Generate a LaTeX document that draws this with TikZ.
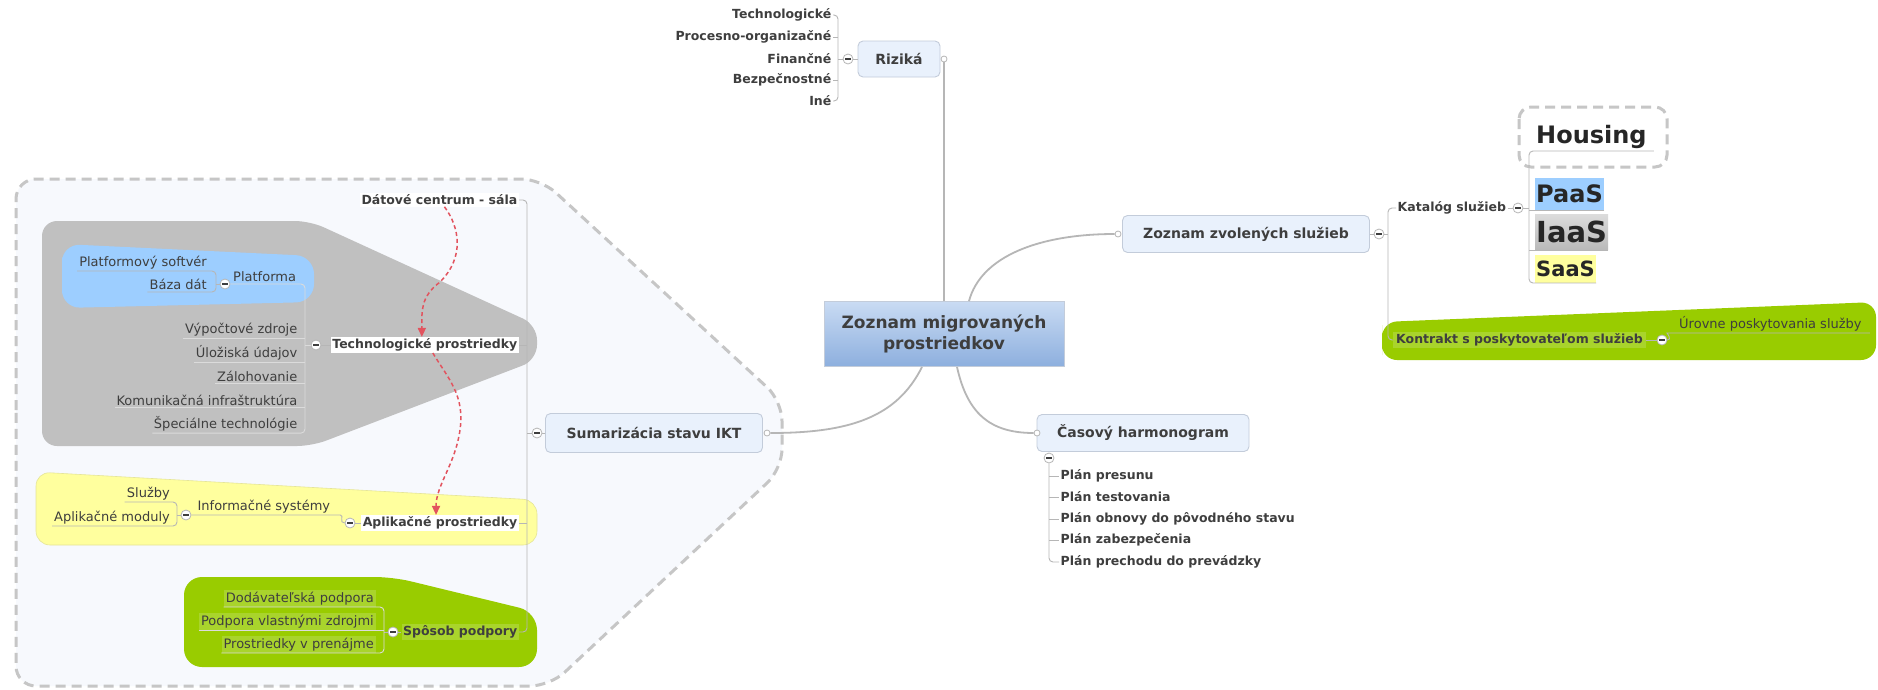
\documentclass[tikz,border=0pt]{standalone}
\usepackage{fontspec}
\setmainfont{DejaVu Sans}
\usetikzlibrary{arrows.meta,calc}
\definecolor{txt}{HTML}{3E3E3E}
\definecolor{lin}{HTML}{B6B6B6}
\definecolor{topicfill}{HTML}{E9F1FC}
\definecolor{topicdraw}{HTML}{C3CCDA}
\definecolor{regfill}{HTML}{F7F9FD}
\definecolor{regdraw}{HTML}{C6C6C6}
\definecolor{grayshape}{HTML}{C0C0C0}
\definecolor{blueshape}{HTML}{9DCEFF}
\definecolor{yelshape}{HTML}{FFFF9E}
\definecolor{grnshape}{HTML}{99CC00}
\definecolor{grnlight}{HTML}{A9D42C}
\definecolor{redarr}{HTML}{E2535E}
\definecolor{cenTop}{HTML}{C9DBF3}
\definecolor{cenBot}{HTML}{8DAFDE}
\newcommand\mmfs[1]{\fontsize{#1}{#1}\selectfont}
\tikzset{
  lbl/.style={inner sep=1.5pt, text=txt, font=\bfseries\mmfs{12.5}},
  reg/.style={inner sep=1.5pt, text=txt, font=\mmfs{13}},
  topic/.style={draw=topicdraw, fill=topicfill, rounded corners=5pt, text=txt, font=\bfseries\mmfs{14}, line width=0.9pt},
  coll/.style={circle, draw=lin, fill=white, minimum size=10pt, inner sep=0pt, line width=0.8pt,
    path picture={\draw[line width=1.4pt, txt] ([xshift=-2.6pt]path picture bounding box.center) -- ([xshift=2.6pt]path picture bounding box.center);}},
  hub/.style={circle, draw=lin, fill=white, minimum size=6pt, inner sep=0pt, line width=0.8pt},
  mainline/.style={draw=lin, line width=1.8pt},
  br/.style={draw=lin, line width=0.9pt, rounded corners=4pt},
  brlight/.style={draw=gray!28, line width=0.9pt, rounded corners=4pt},
  region/.style={fill=regfill, draw=regdraw, line width=3pt, dash pattern=on 10pt off 6pt},
  redline/.style={draw=redarr, line width=1.5pt, dash pattern=on 4pt off 3pt, -{Triangle[length=9pt,width=8pt]}},
  big/.style={text=black!85, inner ysep=1pt, inner xsep=1pt, anchor=south west}
}
\begin{document}
\begin{tikzpicture}[x=1pt,y=-1pt]
\useasboundingbox (0,0) rectangle (1878,689);
\fill[white] (0,0) rectangle (1878,689);

% ---------- background shapes ----------
\path[region, rounded corners=20] (16,430) -- (16,179) -- (541,179) -- (782,401) -- (782,469) -- (550,686) -- (16,686) -- cycle;
\fill[grayshape, rounded corners=15] (42,330) -- (42,221) -- (310,221) -- (537,325) -- (537,360) -- (312,446) -- (42,446) -- cycle;
\fill[blueshape, rounded corners=18] (62,275) -- (62,244) -- (314,256) -- (314,302) -- (62,308) -- cycle;
\path[fill=yelshape, draw=yelshape!80!gray, line width=0.6pt, rounded corners=14] (36,510) -- (36,472) -- (537,500) -- (537,545) -- (36,545) -- cycle;
\fill[grnshape, rounded corners=18] (184,620) -- (184,577) -- (393,577) -- (537,612) -- (537,667) -- (184,667) -- cycle;
\fill[grnshape, rounded corners=15] (1382,340) -- (1382,322) -- (1876,302) -- (1876,360) -- (1382,360) -- cycle;
\path[fill=white, draw=regdraw, line width=3pt, dash pattern=on 10pt off 6pt, rounded corners=12] (1519,107) rectangle (1667,167);

% ---------- central topic ----------
\node[draw=topicdraw, line width=0.9pt, top color=cenTop, bottom color=cenBot, minimum width=240pt, minimum height=65pt,
      align=center, font=\bfseries\fontsize{17}{21}\selectfont, text=txt] (cen) at (944,334) {Zoznam migrovaných\\prostriedkov};

% ---------- Rizika ----------
\node[topic, minimum width=82pt, minimum height=36pt] (riz) at (899,59) {Riziká};
\node[hub] (hR) at (944,59) {};
\node[coll] (cR) at (848,59) {};
\coordinate (rv) at (838,59);
\node[lbl, anchor=east] (r1) at (833,15) {Technologické};
\node[lbl, anchor=east] (r2) at (833,37) {Procesno-organizačné};
\node[lbl, anchor=east] (r3) at (833,59) {Finančné};
\node[lbl, anchor=east] (r4) at (833,80) {Bezpečnostné};
\node[lbl, anchor=east] (r5) at (833,101) {Iné};
\draw[br] (r1.east) -| (rv) |- (r5.east);
\draw[br] (r2.east) -- (rv |- r2.east);
\draw[br] (r4.east) -- (rv |- r4.east);
\draw[br] (cR.west) -- (rv);
\draw[br] (cR.east) -- (riz.west);

% ---------- Zoznam zvolenych sluzieb ----------
\node[topic, minimum width=247pt, minimum height=37pt] (zvo) at (1246,234) {Zoznam zvolených služieb};
\node[hub] (hZ) at (1118,234) {};
\node[coll] (cZ) at (1379,234) {};
\coordinate (zv) at (1388,234);
\node[lbl, anchor=west] (kat) at (1396,208) {Katalóg služieb};
\node[coll] (cK) at (1518,208) {};
\coordinate (kv) at (1529,208);
\node[big, font=\bfseries\mmfs{24}, inner xsep=7pt, inner ysep=2pt] (hou) at (1529,151) {Housing};
\node[big, fill=blueshape, minimum height=32pt, font=\bfseries\mmfs{24}] (paa) at (1535,210) {PaaS};
\node[big, top color=gray!28, bottom color=gray!55, minimum height=35pt, font=\bfseries\mmfs{29}] (iaa) at (1535,250) {IaaS};
\node[big, fill=yelshape, minimum height=28pt, font=\bfseries\mmfs{21}] (saa) at (1535,283) {SaaS};
\node[lbl, fill=grnlight, anchor=west, inner xsep=3pt, inner ysep=2pt] (kon) at (1393,340) {Kontrakt s poskytovateľom služieb};
\node[coll] (cKo) at (1662,340) {};
\node[reg, anchor=south west, inner xsep=8pt, inner ysep=2pt] (uro) at (1671,333) {Úrovne poskytovania služby};
\draw[br] (zvo.east) -- (cZ.west);
\draw[br] (cZ.east) -- (zv);
\draw[br] (kat.west) -| (zv) |- (kon.west);
\draw[br] (kat.east) -- (cK.west);
\draw[br] (cK.east) -- (kv);
\draw[br] (hou.south east) -- (kv |- hou.south) -- (kv |- saa.south) -- (saa.south east);
\draw[br] (paa.south east) -- (kv |- paa.south);
\draw[br] (iaa.south east) -- (kv |- iaa.south);
\draw[br] (kon.east) -- (cKo.west);
\draw[br] (cKo.east) .. controls +(5,0) and +(-4,0) .. (uro.south west) -- (uro.south east);

% ---------- Casovy harmonogram ----------
\node[topic, minimum width=212pt, minimum height=37pt] (cas) at (1143,433) {Časový harmonogram};
\node[hub] (hC) at (1037,433) {};
\node[coll] (cT) at (1049,458) {};
\node[lbl, anchor=west] (p1) at (1059,476) {Plán presunu};
\node[lbl, anchor=west] (p2) at (1059,497) {Plán testovania};
\node[lbl, anchor=west] (p3) at (1059,519) {Plán obnovy do pôvodného stavu};
\node[lbl, anchor=west] (p4) at (1059,540) {Plán zabezpečenia};
\node[lbl, anchor=west] (p5) at (1059,562) {Plán prechodu do prevádzky};
\draw[br] (cT.south) |- (p5.west);
\draw[br] (cT.south |- p1.west) -- (p1.west);
\draw[br] (cT.south |- p2.west) -- (p2.west);
\draw[br] (cT.south |- p3.west) -- (p3.west);
\draw[br] (cT.south |- p4.west) -- (p4.west);

% ---------- Sumarizacia ----------
\node[topic, minimum width=217pt, minimum height=39pt] (sum) at (654,433) {Sumarizácia stavu IKT};
\node[hub] (hS) at (767,433) {};
\node[coll] (cS) at (537,433) {};
\coordinate (sv) at (527,433);
\node[lbl, anchor=east, fill=white] (dat) at (519,200) {Dátové centrum - sála};
\node[lbl, anchor=east, fill=white] (tec) at (519,345) {Technologické prostriedky};
\node[lbl, anchor=east, fill=white] (apl) at (519,523) {Aplikačné prostriedky};
\node[lbl, anchor=east, fill=grnlight] (spo) at (519,632) {Spôsob podpory};
\draw[br] (sum.west) -- (cS.east);
\draw[br] (cS.west) -- (sv);
\draw[br] (dat.east) -- (sv |- dat.east) -- (sv |- spo.east) -- (spo.east);
\draw[br] (tec.east) -- (sv |- tec.east);
\draw[br] (apl.east) -- (sv |- apl.east);

% technologicke
\node[coll] (cTe) at (316,345) {};
\coordinate (tv) at (305,345);
\node[reg, anchor=east] (t1) at (299,330) {Výpočtové zdroje};
\node[reg, anchor=east] (t2) at (299,353) {Úložiská údajov};
\node[reg, anchor=east] (t3) at (299,376) {Zálohovanie};
\node[reg, anchor=east] (t4) at (299,400) {Komunikačná infraštruktúra};
\node[reg, anchor=east] (t5) at (299,424) {Špeciálne technológie};
\node[coll] (cPl) at (225,284) {};
\node[reg, anchor=south west, inner sep=2pt] (pla) at (231,284) {Platforma};
\draw[br] (tec.west) -- (cTe.east);
\draw[brlight] (cTe.west) -- (tv);
\draw[brlight] (cPl.east) -- (tv |- cPl.east) -- (tv |- t5.south) -- (t5.south west);
\draw[brlight] (t1.south west) -- (tv |- t1.south);
\draw[brlight] (t2.south west) -- (tv |- t2.south);
\draw[brlight] (t3.south west) -- (tv |- t3.south);
\draw[brlight] (t4.south west) -- (tv |- t4.south);
% platforma
\coordinate (pv) at (216,284);
\node[reg, anchor=south east, inner sep=2pt] (pl1) at (209,271) {Platformový softvér};
\node[reg, anchor=south east, inner sep=2pt] (pl2) at (209,292) {Báza dát};
\draw[br] (pl1.south west) -- (pv |- pl1.south) -- (pv |- pl2.south) -- (pl2.south west);
\draw[br] (cPl.west) -- (pv);

% aplikacne
\node[coll] (cAp) at (350,523) {};
\node[coll] (cIn) at (186,515) {};
\node[reg, anchor=south west, inner xsep=6pt, inner ysep=2pt] (inf) at (cIn.east) {Informačné systémy};
\coordinate (iv) at (177,515);
\node[reg, anchor=south east, inner sep=2pt] (y1) at (172,502) {Služby};
\node[reg, anchor=south east, inner sep=2pt] (y2) at (172,526) {Aplikačné moduly};
\draw[br] (apl.west) -- (cAp.east);
\draw[br] (cIn.east) -- (inf.south east) .. controls +(8,0) and +(-6,0) .. (cAp.west);
\draw[br] (y1.south west) -- (iv |- y1.south) -- (iv |- y2.south) -- (y2.south west);
\draw[br] (cIn.west) -- (iv);

% sposob podpory
\node[coll] (cSp) at (393,632) {};
\coordinate (gv) at (384,632);
\node[reg, anchor=south east, fill=grnlight, inner sep=2pt] (g1) at (376,607) {Dodávateľská podpora};
\node[reg, anchor=south east, fill=grnlight, inner sep=2pt] (g2) at (376,630) {Podpora vlastnými zdrojmi};
\node[reg, anchor=south east, fill=grnlight, inner sep=2pt] (g3) at (376,653) {Prostriedky v prenájme};
\draw[br] (spo.west) -- (cSp.east);
\draw[br] (cSp.west) -- (gv);
\draw[brlight] (g1.south west) -- (gv |- g1.south) -- (gv |- g3.south) -- (g3.south west);
\draw[brlight] (g2.south west) -- (gv |- g2.south);

% ---------- main connectors ----------
\draw[mainline] (cen.north) -- (hR.south);
\draw[mainline] ([xshift=25pt]cen.north) .. controls +(12,-45) and +(-75,0) .. (hZ.west);
\draw[mainline] ([xshift=-22pt]cen.south) .. controls +(-25,50) and +(80,0) .. (hS.east);
\draw[mainline] ([xshift=13pt]cen.south) .. controls +(10,45) and +(-45,0) .. (hC.west);

% ---------- red relations ----------
\coordinate (rm1) at (440,282);
\coordinate (rm2) at (460,430);
\draw[redline] ([xshift=5pt]dat.south) .. controls +(15,20) and +(25,-25) .. (rm1) .. controls +(-20,15) and +(0,-25) .. ([xshift=-3pt]tec.north);
\draw[redline] ([xshift=8pt]tec.south) .. controls +(15,25) and +(5,-35) .. (rm2) .. controls +(-5,35) and +(0,-30) .. ([xshift=-4pt]apl.north);
\end{tikzpicture}
\end{document}
